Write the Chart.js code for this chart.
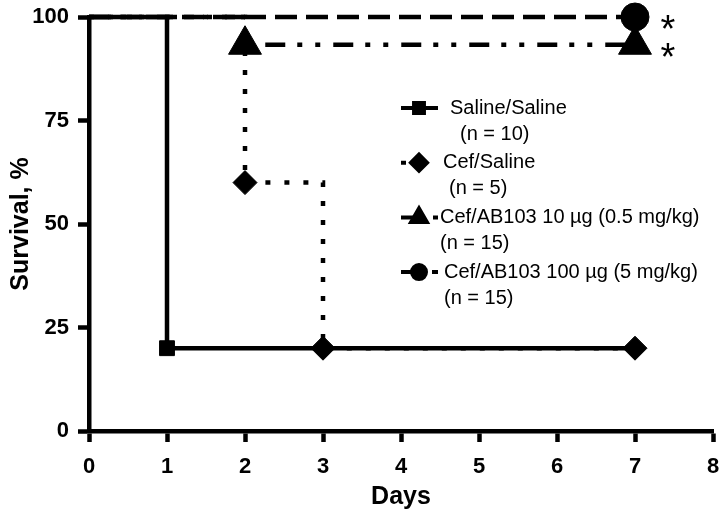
<!DOCTYPE html>
<html>
<head>
<meta charset="utf-8">
<title>Survival</title>
<script src="https://cdn.jsdelivr.net/npm/chart.js@4/dist/chart.umd.min.js"></script>
<style>
    html, body { margin: 0; padding: 0; background: #fff; }
    #wrap { width: 720px; height: 518px; }
</style>
</head>
<body>
<div id="wrap"><canvas id="survivalChart" width="720" height="518"></canvas></div>
<script>
// Kaplan-Meier data (day, % survival)
const salineDays = [0, 1, 7];
const salineSurv = [100, 20, 20];
const cefSalineDays = [0, 2, 3, 7];
const cefSalineSurv = [100, 60, 20, 20];
const ab10Days = [0, 2, 7];
const ab10Surv = [100, 93.3, 93.3];
const ab100Days = [0, 7];
const ab100Surv = [100, 100];

const seriesLabels = ['Saline/Saline', 'Cef/Saline', 'Cef/AB103 10 \u00b5g (0.5 mg/kg)', 'Cef/AB103 100 \u00b5g (5 mg/kg)'];
const seriesN = ['(n = 10)', '(n = 5)', '(n = 15)', '(n = 15)'];
const significance = ['', '', '*', '*'];

const xTicks = [0, 1, 2, 3, 4, 5, 6, 7, 8];
const yTicks = [0, 25, 50, 75, 100];
const xTitle = 'Days';
const yTitle = 'Survival, %';

const toPoints = (xs, ys) => xs.map((x, i) => ({ x: x, y: ys[i] }));

// line / marker looks per series
const styles = [
    { dash: [], marker: 'rect', r: 10.5, lr: 7 },
    { dash: [5, 14], marker: 'rectRot', r: 12, lr: 8 },
    { dash: [20, 12, 5, 13, 5, 13], marker: 'triangle', r: 19, lr: 9 },
    { dash: [22, 9], marker: 'circle', r: 14, lr: 7 }
];
const seriesData = [
    toPoints(salineDays, salineSurv),
    toPoints(cefSalineDays, cefSalineSurv),
    toPoints(ab10Days, ab10Surv),
    toPoints(ab100Days, ab100Surv)
];

const datasets = seriesData.map((pts, i) => ({
    label: seriesLabels[i],
    data: pts,
    stepped: 'before',
    borderColor: '#000',
    backgroundColor: '#000',
    borderWidth: 4.5,
    borderDash: styles[i].dash,
    pointStyle: styles[i].marker,
    pointBackgroundColor: '#000',
    pointBorderColor: '#000',
    pointBorderWidth: 1,
    // no marker at time zero; saline's last marker sits under the cef/saline one
    pointRadius: ctx => {
        if (ctx.raw.x === 0) return 0;
        if (i === 0 && ctx.dataIndex === pts.length - 1) return 0;
        return styles[i].r;
    },
    pointHoverRadius: 0,
    clip: false
}));

// Legend drawn inside the plot, two text lines per entry
const legendPlugin = {
    id: 'insideLegend',
    afterDatasetsDraw(chart) {
        const ctx = chart.ctx;
        const textX = [450, 443, 440, 444];
        const nX = [460, 449, 440, 444];
        ctx.save();
        chart.data.datasets.forEach((ds, i) => {
            const y = 108 + i * 54.7;
            ctx.strokeStyle = '#000';
            ctx.fillStyle = '#000';
            ctx.lineWidth = 4;
            ctx.setLineDash(styles[i].dash);
            ctx.beginPath();
            ctx.moveTo(401, y);
            ctx.lineTo(438, y);
            ctx.stroke();
            ctx.setLineDash([]);
            Chart.helpers.drawPoint(ctx, {
                pointStyle: styles[i].marker, radius: styles[i].lr, rotation: 0, borderWidth: 1
            }, 419, y);
            ctx.font = '20px "Liberation Sans", Arial, sans-serif';
            ctx.textBaseline = 'middle';
            ctx.fillText(seriesLabels[i], textX[i], y);
            ctx.fillText(seriesN[i], nX[i], y + 26);
        });

        // significance asterisks next to the last point of each series
        const xs = chart.scales.x, ys = chart.scales.y;
        ctx.font = '38px "Liberation Sans", Arial, sans-serif';
        ctx.textAlign = 'center';
        seriesData.forEach((pts, i) => {
            if (!significance[i]) return;
            const last = pts[pts.length - 1];
            ctx.fillText(significance[i], xs.getPixelForValue(last.x) + 33, ys.getPixelForValue(last.y) + 15);
        });
        ctx.restore();
    }
};

const tickFont = { family: '"Liberation Sans", Arial, sans-serif', size: 22, weight: 'bold' };
const xTickFont = { family: '"Liberation Sans", Arial, sans-serif', size: 22, weight: 'bold', lineHeight: 2.3 };
const titleFont = { family: '"Liberation Sans", Arial, sans-serif', size: 25, weight: 'bold' };

new Chart(document.getElementById('survivalChart'), {
    type: 'line',
    data: { datasets: datasets },
    options: {
        responsive: false,
        animation: false,
        devicePixelRatio: 1,
        layout: { autoPadding: false, padding: { top: 17, right: 7, left: 0, bottom: 0 } },
        plugins: {
            legend: { display: false },
            tooltip: { enabled: false }
        },
        scales: {
            x: {
                type: 'linear',
                min: xTicks[0],
                max: xTicks[xTicks.length - 1],
                afterBuildTicks: s => { s.ticks = xTicks.map(v => ({ value: v })); },
                afterFit: s => { s.height = 87; s.paddingRight = 0; },
                ticks: { color: '#000', font: xTickFont, padding: 0, maxRotation: 0 },
                grid: { drawOnChartArea: false, drawTicks: true, tickLength: 11, tickWidth: 4.5, tickColor: '#000' },
                border: { display: true, color: '#000', width: 4.5 },
                title: { display: true, text: xTitle, color: '#000', font: titleFont, padding: { top: 0, bottom: 6 } }
            },
            y: {
                type: 'linear',
                min: yTicks[0],
                max: yTicks[yTicks.length - 1],
                afterBuildTicks: s => { s.ticks = yTicks.map(v => ({ value: v })); },
                afterFit: s => { s.width = 89; s.paddingTop = 0; s.paddingBottom = 0; },
                ticks: { color: '#000', font: tickFont, padding: 9 },
                grid: { drawOnChartArea: false, drawTicks: true, tickLength: 11, tickWidth: 4.5, tickColor: '#000' },
                border: { display: true, color: '#000', width: 4.5 },
                title: { display: true, text: yTitle, color: '#000', font: titleFont, padding: { top: 6, bottom: 0 } }
            }
        }
    },
    plugins: [legendPlugin]
});
</script>
</body>
</html>
